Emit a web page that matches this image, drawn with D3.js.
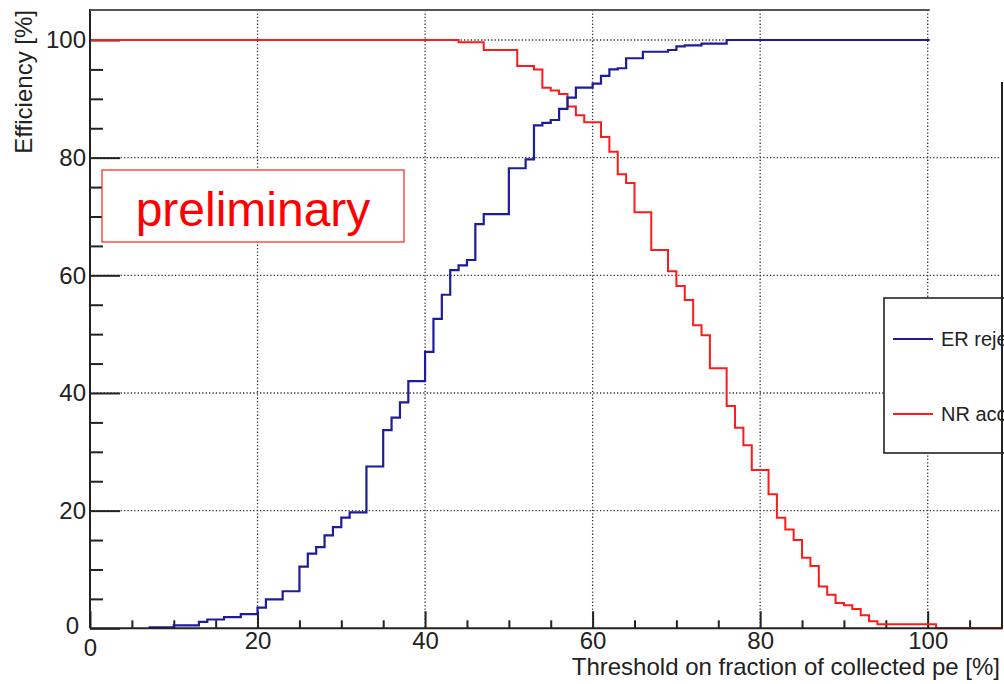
<!DOCTYPE html>
<html>
<head>
<meta charset="utf-8">
<script src="https://cdn.jsdelivr.net/npm/d3@7"></script>
<style>
  html, body { margin: 0; padding: 0; background: #fff; }
  svg { display: block; }
  text { font-family: "Liberation Sans", Arial, Helvetica, sans-serif; }
</style>
</head>
<body>
<svg id="chart" width="1004" height="684"></svg>
<script>
// Step boundaries (lower bin edge, %) and efficiency in each step (%)
const erEdges  = [7, 10, 13, 14, 16, 18, 20, 21, 23, 25, 26, 27, 28, 29, 30, 31, 33, 35, 36, 37,
                  38, 40, 41, 42, 43, 44, 45, 46, 47, 50, 52, 53, 54, 55, 56, 57, 58, 60, 61, 62,
                  63, 64, 66, 69, 70, 71, 73, 76];
const erValues = [0.15, 0.5, 1.1, 1.5, 1.9, 2.4, 3.5, 4.9, 6.3, 10.5, 12.7, 13.8, 15.8, 17.2, 18.8, 19.7, 27.5, 33.7, 35.8, 38.4,
                  42.0, 47.0, 52.6, 56.7, 60.9, 61.7, 62.6, 68.7, 70.4, 78.2, 79.7, 85.5, 85.9, 86.4, 88.3, 90.2, 91.9, 92.6, 93.9, 95.0,
                  95.2, 96.9, 98.0, 98.3, 98.9, 99.1, 99.4, 100];

const nrEdges  = [0, 44, 47, 51, 53, 54, 55, 56, 57, 58, 59, 61, 62, 63, 64, 65, 67, 69, 70, 71,
                  72, 73, 74, 76, 77, 78, 79, 81, 82, 83, 84, 85, 86, 87, 88, 89, 90, 91, 92, 93,
                  94, 101];
const nrValues = [100, 99.6, 98.3, 95.6, 95.0, 91.9, 91.4, 90.8, 88.7, 87.2, 86.0, 83.5, 81.0, 77.2, 75.7, 70.7, 64.3, 60.7, 58.2, 55.8,
                  51.5, 49.8, 44.2, 37.8, 34.1, 31.1, 26.9, 22.8, 18.8, 16.8, 15.0, 12.0, 10.6, 7.1, 5.7, 4.3, 3.9, 3.3, 2.2, 1.2,
                  0.7, 0];

const histEnd = 109;
const xMajor = [0, 20, 40, 60, 80, 100];
const yMajor = [0, 20, 40, 60, 80, 100];
const xMinor = [5, 10, 15, 25, 30, 35, 45, 50, 55, 65, 70, 75, 85, 90, 95, 105];
const yMinor = [5, 10, 15, 25, 30, 35, 45, 50, 55, 65, 70, 75, 85, 90, 95];

const xTitle = "Threshold on fraction of collected pe [%]";
const yTitle = "Efficiency [%]";
const legendLabels = ["ER rejection", "NR acceptance"];
const stampText = "preliminary";

const ER_COLOR = "#1c1c9c";
const NR_COLOR = "#ff1a1a";
const INK = "#222";

const svg = d3.select("#chart");

const x = d3.scaleLinear().domain([0, 100]).range([90, 927.7]);
const y = d3.scaleLinear().domain([0, 100]).range([628.3, 40]);

const frameLeft = x(0), frameBottom = y(0);
const frameRight = 1002, frameTop = 10;

// dotted grid at the major ticks
const grid = svg.append("g")
  .attr("stroke", "#333").attr("stroke-width", 1.3)
  .attr("stroke-dasharray", "1.3,2.1").attr("fill", "none");
grid.selectAll(".gx").data(xMajor.filter(d => d > 0)).join("line")
  .attr("x1", d => x(d)).attr("x2", d => x(d))
  .attr("y1", frameTop).attr("y2", frameBottom);
grid.selectAll(".gy").data(yMajor.filter(d => d > 0)).join("line")
  .attr("x1", frameLeft).attr("x2", frameRight)
  .attr("y1", d => y(d)).attr("y2", d => y(d));

// axes: ROOT-style inward ticks
const xAxis = d3.axisBottom(x).tickValues(xMajor).tickSizeInner(-17).tickSizeOuter(0)
  .tickFormat(d3.format("d")).tickPadding(4);
const gx = svg.append("g").attr("transform", `translate(0,${frameBottom})`).call(xAxis);
gx.select(".domain").remove();
gx.selectAll(".tick line").attr("stroke", INK).attr("stroke-width", 2);
gx.selectAll(".tick text").attr("fill", INK).attr("font-size", 24);
gx.selectAll(".tick").filter(d => d === 0).select("text").attr("dx", 0).attr("dy", "1.0em");

const xMinorAxis = d3.axisBottom(x).tickValues(xMinor).tickSizeInner(-8).tickSizeOuter(0).tickFormat("");
const gxm = svg.append("g").attr("transform", `translate(0,${frameBottom})`).call(xMinorAxis);
gxm.select(".domain").remove();
gxm.selectAll(".tick line").attr("stroke", INK).attr("stroke-width", 2);

const yAxis = d3.axisLeft(y).tickValues(yMajor).tickSizeInner(-30).tickSizeOuter(0)
  .tickFormat(d3.format("d")).tickPadding(4);
const gy = svg.append("g").attr("transform", `translate(${frameLeft},0)`).call(yAxis);
gy.select(".domain").remove();
gy.selectAll(".tick line").attr("stroke", INK).attr("stroke-width", 2);
gy.selectAll(".tick text").attr("fill", INK).attr("font-size", 24);
gy.selectAll(".tick").filter(d => d === 0).select("text").attr("dx", -7).attr("dy", "0.2em");

const yMinorAxis = d3.axisLeft(y).tickValues(yMinor).tickSizeInner(-13).tickSizeOuter(0).tickFormat("");
const gym = svg.append("g").attr("transform", `translate(${frameLeft},0)`).call(yMinorAxis);
gym.select(".domain").remove();
gym.selectAll(".tick line").attr("stroke", INK).attr("stroke-width", 2);

// step histograms
function stepPoints(edges, values) {
  const pts = edges.map((e, i) => [e, values[i]]);
  pts.push([histEnd, values[values.length - 1]]);
  return pts;
}
const stepLine = d3.line()
  .x(d => x(d[0])).y(d => y(d[1]))
  .curve(d3.curveStepAfter);

svg.append("path")
  .attr("d", stepLine(stepPoints(nrEdges, nrValues)))
  .attr("fill", "none").attr("stroke", NR_COLOR).attr("stroke-width", 2);
svg.append("path")
  .attr("d", stepLine(stepPoints(erEdges, erValues)))
  .attr("fill", "none").attr("stroke", ER_COLOR).attr("stroke-width", 2.2);

// white panel over the top-right corner
svg.append("rect")
  .attr("x", x(100) + 2).attr("y", 0)
  .attr("width", 1004 - x(100) - 2).attr("height", 82)
  .attr("fill", "#fff");

// legend
const legend = svg.append("g");
legend.append("rect")
  .attr("x", 884).attr("y", 298).attr("width", 160).attr("height", 155)
  .attr("fill", "#fff").attr("stroke", INK).attr("stroke-width", 1.6);
const legendColors = [ER_COLOR, NR_COLOR];
const legendY = [339, 414];
legendLabels.forEach((lab, i) => {
  legend.append("line")
    .attr("x1", 893).attr("x2", 933)
    .attr("y1", legendY[i]).attr("y2", legendY[i])
    .attr("stroke", legendColors[i]).attr("stroke-width", 1.8);
  legend.append("text")
    .attr("x", 941).attr("y", legendY[i]).attr("dy", "0.36em")
    .attr("font-size", 20).attr("fill", INK).text(lab);
});

// frame lines
const frame = svg.append("g").attr("stroke", INK).attr("stroke-width", 2).attr("fill", "none");
frame.append("line").attr("x1", frameLeft).attr("x2", frameLeft).attr("y1", frameTop - 1).attr("y2", frameBottom);
frame.append("line").attr("x1", frameLeft).attr("x2", frameRight).attr("y1", frameBottom).attr("y2", frameBottom);
frame.append("line").attr("x1", frameLeft).attr("x2", x(100) + 2).attr("y1", frameTop).attr("y2", frameTop).attr("stroke", "#555");
frame.append("line").attr("x1", frameRight).attr("x2", frameRight).attr("y1", 82).attr("y2", frameBottom);

// axis titles
svg.append("text")
  .attr("transform", `translate(32,10) rotate(-90)`)
  .attr("text-anchor", "end").attr("font-size", 24).attr("fill", INK)
  .text(yTitle);
svg.append("text")
  .attr("x", 1000).attr("y", 675).attr("text-anchor", "end")
  .attr("font-size", 24).attr("fill", INK)
  .text(xTitle);

// preliminary stamp
svg.append("rect")
  .attr("x", 102).attr("y", 170).attr("width", 302).attr("height", 72)
  .attr("fill", "#fff").attr("stroke", "#ff2020").attr("stroke-width", 1.2);
svg.append("text")
  .attr("x", 253).attr("y", 226).attr("text-anchor", "middle")
  .attr("font-size", 48).attr("fill", "#ff0000")
  .text(stampText);
</script>
</body>
</html>
